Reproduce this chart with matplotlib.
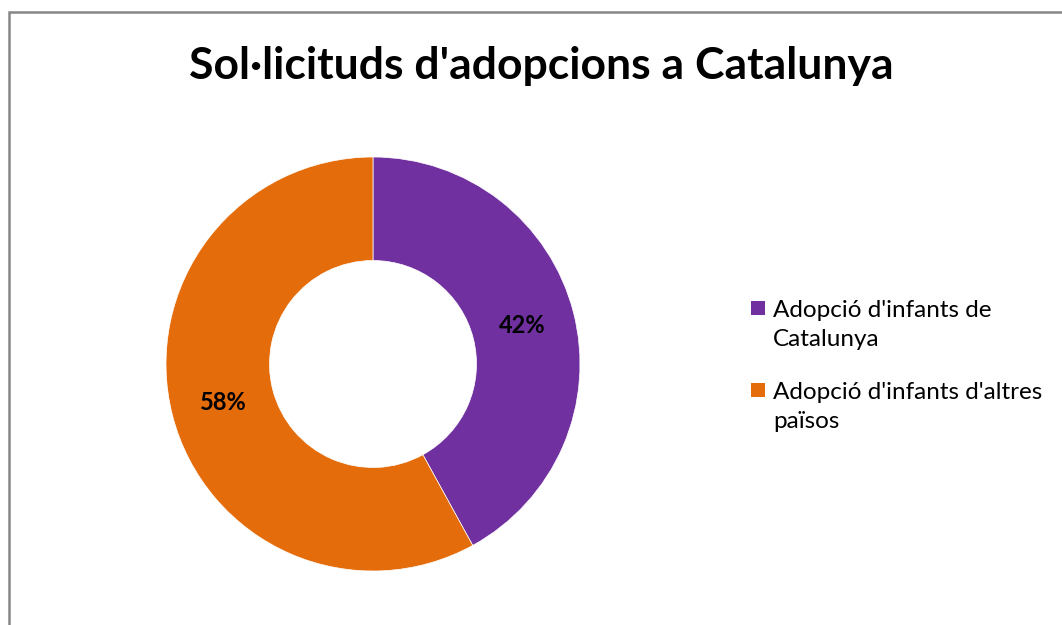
import matplotlib.pyplot as plt
from matplotlib.patches import Rectangle

categories = ["Adopció d'infants de\nCatalunya", "Adopció d'infants d'altres\npaïsos"]
values = [42, 58]
colors = ["#7030A0", "#E46C0A"]

plt.rcParams['font.family'] = ['Lato', 'DejaVu Sans']

W, H = 1062, 625
fig = plt.figure(figsize=(W / 100, H / 100), dpi=100)

# gray chart frame, runs off the right and bottom edges
fig.patches.append(Rectangle((9 / W, -0.1), 1.1, 0.1 + (1 - 12 / H),
                             transform=fig.transFigure, fill=False,
                             edgecolor="#878787", linewidth=1.8))

fig.text(541 / W, 1 - 66 / H, "Sol·licituds d'adopcions a Catalunya",
         ha="center", va="center", fontsize=32, fontweight="bold")

ax = fig.add_axes([166 / W, 54 / H, 414 / W, 414 / H])
wedges, _, autotexts = ax.pie(values, colors=colors, startangle=90, counterclock=False,
                              autopct="%.0f%%", pctdistance=0.745,
                              wedgeprops=dict(width=0.5, edgecolor="white", linewidth=0.5),
                              textprops=dict(fontsize=17, fontweight="bold"))
ax.set_xlim(-1, 1)
ax.set_ylim(-1, 1)
ax.set_aspect("equal")
ax.axis("off")

# legend drawn by hand so the marker sits beside the first line
for i, (label, c) in enumerate(zip(categories, colors)):
    y = 300 + i * 82
    fig.patches.append(Rectangle((751 / W, 1 - (y + 15) / H), 14 / W, 14 / H,
                                 transform=fig.transFigure, facecolor=c, edgecolor="none"))
    fig.text(773 / W, 1 - y / H, label, ha="left", va="top",
             fontsize=17.5, linespacing=1.47)

fig.savefig("out.png", dpi=100)
